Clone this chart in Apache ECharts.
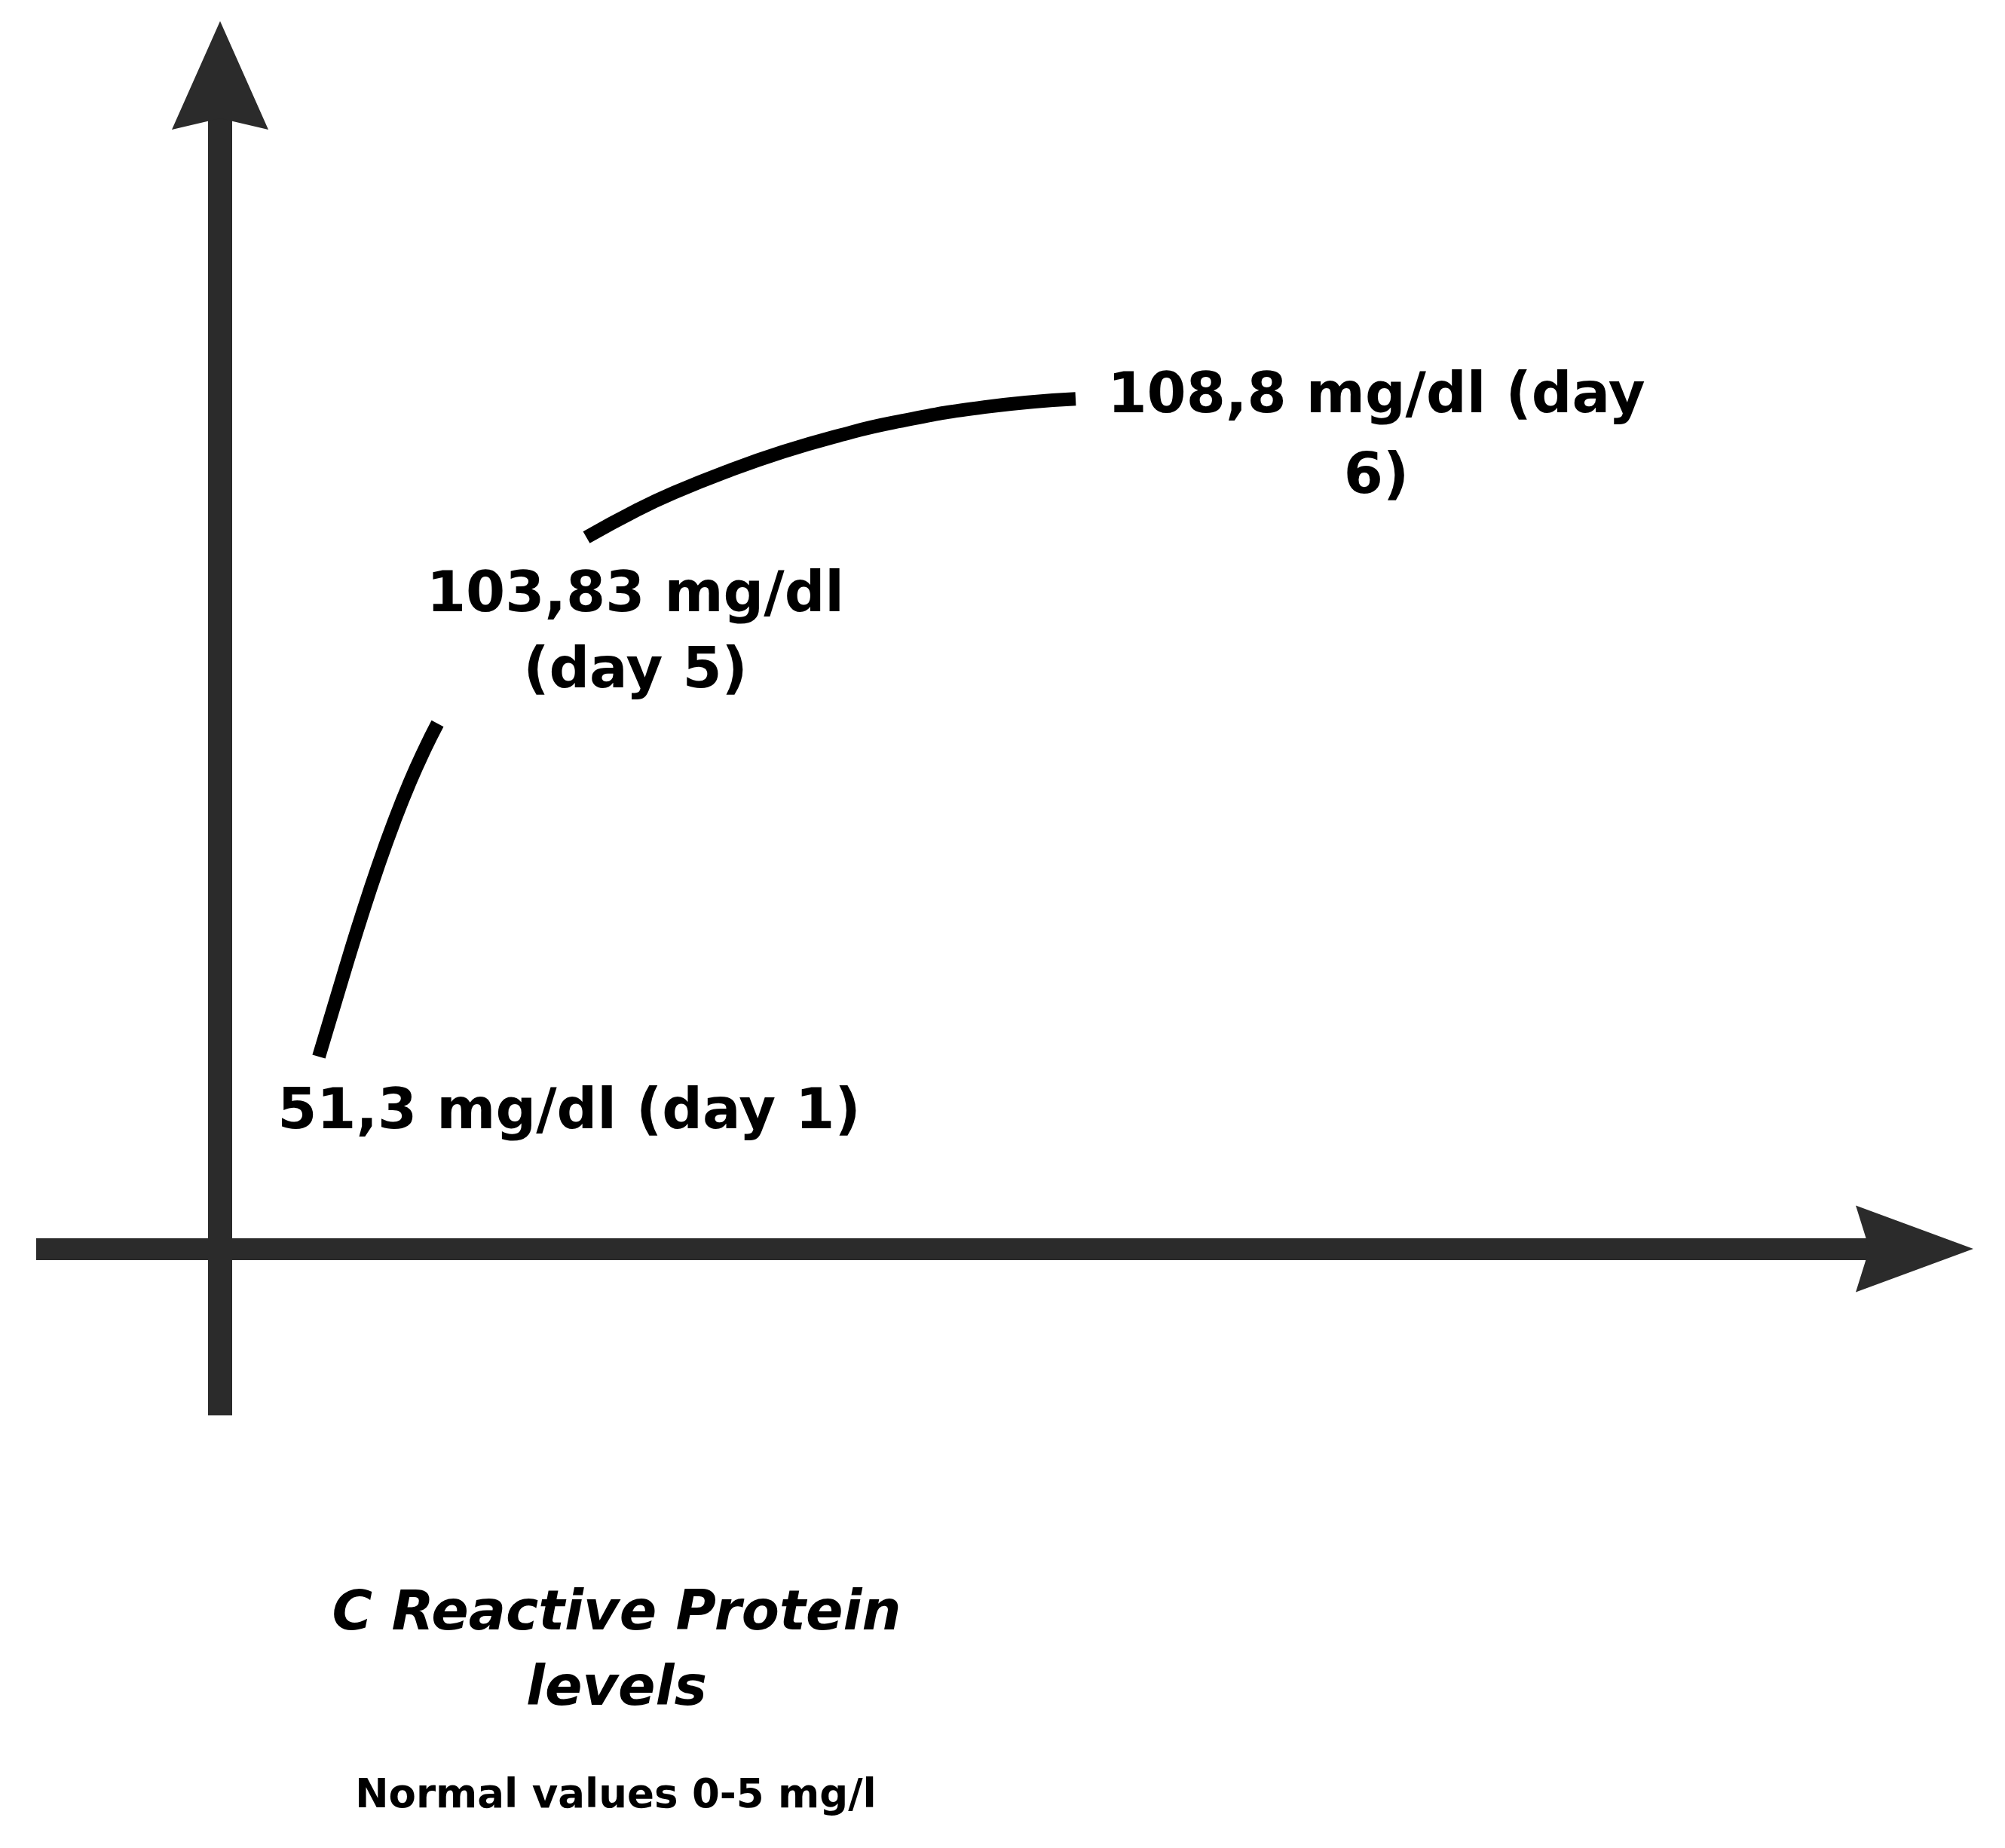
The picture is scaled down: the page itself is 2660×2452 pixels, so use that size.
<!DOCTYPE html>
<html>
<head>
<meta charset="utf-8">
<script src="https://cdn.jsdelivr.net/npm/echarts@6/dist/echarts.min.js"></script>
<style>
  html, body { margin: 0; padding: 0; background: #ffffff; }
  #chart { width: 2660px; height: 2452px; }
</style>
</head>
<body>
<div id="chart"></div>
<script>
// ---- data (sketch units; origin = where the axes cross) ----
const days = [1, 5, 6];
const crpValues = [51.3, 103.83, 108.8];
const dayLabels = ['51,3 mg/dl (day 1)', '103,83 mg/dl\n(day 5)', '108,8 mg/dl (day\n6)'];

// rising curve, first stroke (day 1 towards day 5)
const seg1X = [13.1, 16.58, 18.78, 20.93, 23.13, 25.21, 27.15, 28.85];
const seg1Y = [25.5, 37.1, 44.2, 50.7, 56.8, 62.0, 66.3, 69.7];
// rising curve, second stroke (day 5 towards day 6)
const seg2X = [48.6, 55.3, 60.2, 67.5, 74.7, 82.0, 89.3, 101.4, 113.5];
const seg2Y = [94.4, 98.02, 100.32, 103.24, 105.76, 107.88, 109.63, 111.69, 112.78];

// where each day sits on the curve (day 5 lies in the gap of the stroke)
const dayPointX = [13.1, 38.7, 113.5];
const dayPointY = [25.5, 82.0, 112.78];

const titleLines = ['C Reactive Protein', 'levels'];
const noteText = 'Normal values 0-5 mg/l';

// ---- build ----
const seg1 = seg1X.map((x, i) => [x, seg1Y[i]]);
const seg2 = seg2X.map((x, i) => [x, seg2Y[i]]);
const labelOffsets = [[332, 76], [164, 5], [399, 52]];
const labelLineHeights = [104, 101, 107];
const dayData = days.map((d, i) => ({
  name: dayLabels[i],
  value: [dayPointX[i], dayPointY[i], crpValues[i]],
  label: { offset: labelOffsets[i], lineHeight: labelLineHeights[i] }
}));

const axisColor = '#2b2b2b';

const chart = echarts.init(document.getElementById('chart'), null, { renderer: 'canvas' });
chart.setOption({
  backgroundColor: '#ffffff',
  animation: false,
  title: [
    {
      text: titleLines.join('\n'),
      left: 818,
      top: 2093,
      padding: 0,
      textAlign: 'center',
      textStyle: {
        fontFamily: 'DejaVu Sans',
        fontWeight: 'bold',
        fontStyle: 'italic',
        fontSize: 73,
        lineHeight: 100,
        color: '#000000'
      }
    },
    {
      text: noteText,
      left: 817,
      top: 2354,
      padding: 0,
      textAlign: 'center',
      textStyle: {
        fontFamily: 'DejaVu Sans',
        fontWeight: 'bold',
        fontSize: 53,
        lineHeight: 60,
        color: '#000000'
      }
    }
  ],
  grid: { left: 48, right: 120, top: 100, bottom: 574, containLabel: false },
  xAxis: {
    type: 'value',
    min: -24.4,
    max: 224.8,
    axisLine: {
      show: true,
      onZero: true,
      symbol: ['none', 'path://M57.5,0L115,156L57.5,138L0,156Z'],
      symbolSize: [115, 156],
      lineStyle: { color: axisColor, width: 29, cap: 'butt' }
    },
    axisTick: { show: false },
    axisLabel: { show: false },
    splitLine: { show: false }
  },
  yAxis: {
    type: 'value',
    min: -22.1,
    max: 155.7,
    axisLine: {
      show: true,
      onZero: true,
      symbol: ['none', 'path://M64,0L128,144L64,129L0,144Z'],
      symbolSize: [128, 144],
      lineStyle: { color: axisColor, width: 32, cap: 'butt' }
    },
    axisTick: { show: false },
    axisLabel: { show: false },
    splitLine: { show: false }
  },
  series: [
    {
      type: 'line',
      data: seg1,
      smooth: 0.5,
      showSymbol: false,
      lineStyle: { color: '#000000', width: 18, cap: 'butt', join: 'round' },
      z: 3
    },
    {
      type: 'line',
      data: seg2,
      smooth: 0.5,
      showSymbol: false,
      lineStyle: { color: '#000000', width: 18, cap: 'butt', join: 'round' },
      z: 3
    },
    {
      type: 'scatter',
      data: dayData,
      symbol: 'circle',
      symbolSize: 1,
      itemStyle: { color: 'rgba(0,0,0,0)', opacity: 1 },
      z: 5,
      label: {
        show: true,
        position: 'inside',
        formatter: p => p.name,
        align: 'center',
        verticalAlign: 'middle',
        fontFamily: 'DejaVu Sans',
        fontWeight: 'bold',
        fontSize: 75,
        color: '#000000',
        opacity: 1
      }
    }
  ]
});
</script>
</body>
</html>
